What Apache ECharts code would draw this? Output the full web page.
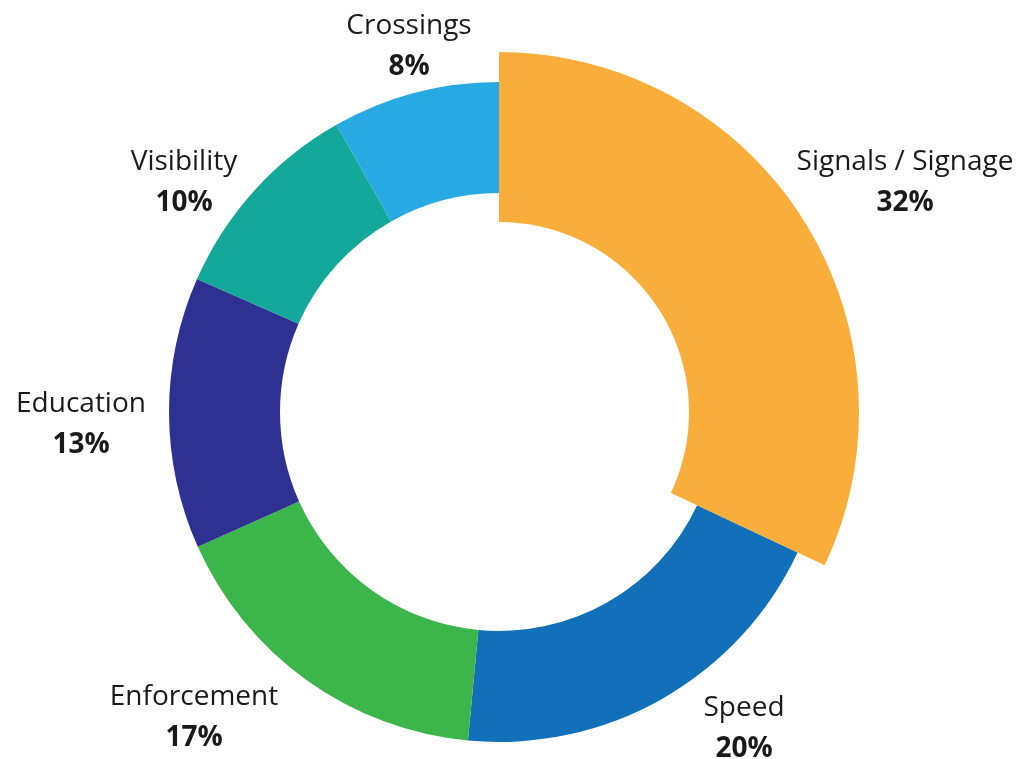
<!DOCTYPE html>
<html>
<head>
<meta charset="utf-8">
<script src="https://cdn.jsdelivr.net/npm/echarts@6/dist/echarts.min.js"></script>
<style>
html,body{margin:0;padding:0;background:#fff;}
#chart{width:1031px;height:759px;}
</style>
</head>
<body>
<div id="chart"></div>
<script>
// Data
const categories = ['Signals / Signage', 'Speed', 'Enforcement', 'Education', 'Visibility', 'Crossings'];
// slice sizes as drawn in the picture
const values = [32.0, 19.5, 16.8, 13.3, 10.2, 8.2];
// percentages printed on the labels
const pctLabels = [32, 20, 17, 13, 10, 8];
const colors = ['#F9AE3B', '#1170B8', '#3CB54A', '#2E3192', '#14A89B', '#27A9E1'];
const highlighted = 'Signals / Signage';

// Layout (label centres, px)
const labelPos = [[905, 183], [744, 729], [194, 718], [81, 425], [184, 183], [409, 47]];
const CENTER = [499, 412];

const chart = echarts.init(document.getElementById('chart'), null, {renderer: 'canvas'});

const ringData = categories.map((c, i) => ({
  name: c, value: values[i],
  itemStyle: {color: c === highlighted ? 'rgba(0,0,0,0)' : colors[i]}
}));
const bigData = categories.map((c, i) => ({
  name: c, value: values[i],
  itemStyle: {color: c === highlighted ? colors[i] : 'rgba(0,0,0,0)'}
}));

const textFont = '"Open Sans", Lato, sans-serif';

chart.setOption({
  animation: false,
  series: [
    {
      type: 'pie',
      center: CENTER,
      radius: [219, 330],
      startAngle: 90,
      clockwise: true,
      avoidLabelOverlap: false,
      silent: true,
      itemStyle: {borderWidth: 0},
      data: ringData,
      label: {
        show: true,
        position: 'outside',
        formatter: function (p) {
          return '{n|' + p.name + '}\n{v|' + pctLabels[p.dataIndex] + '%}';
        },
        color: '#231f20',
        rich: {
          n: {fontSize: 28, fontFamily: textFont, color: '#1a1a1a', lineHeight: 41, align: 'center'},
          v: {fontSize: 28, fontFamily: textFont, fontWeight: 'bold', color: '#1a1a1a', lineHeight: 41, align: 'center'}
        }
      },
      labelLine: {show: false},
      labelLayout: function (params) {
        const p = labelPos[params.dataIndex];
        return {x: p[0], y: p[1], align: 'center', verticalAlign: 'middle'};
      },
      z: 1
    },
    {
      type: 'pie',
      center: CENTER,
      radius: [190, 360],
      startAngle: 90,
      clockwise: true,
      silent: true,
      itemStyle: {borderWidth: 0},
      data: bigData,
      label: {show: false},
      labelLine: {show: false},
      z: 2
    }
  ]
});
</script>
</body>
</html>
